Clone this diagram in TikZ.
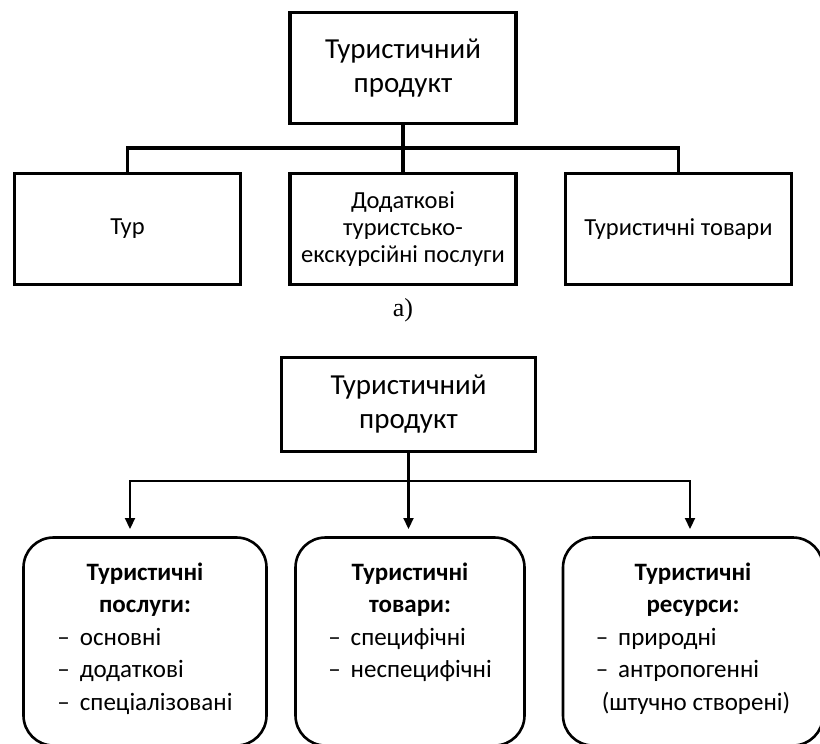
\documentclass[tikz,border=0pt]{standalone}
\usepackage{fontspec}
\setmainfont{Carlito}
\newfontfamily\capfont{Liberation Serif}
\usetikzlibrary{arrows.meta,positioning}

\begin{document}
\begin{tikzpicture}[x=1pt, y=1pt, node distance=275.5pt, align=center,
    sqbox/.style={draw=black, line width=3.2pt, minimum width=226pt, minimum height=111pt, inner sep=2pt, font=\fontsize{24.5}{27}\selectfont},
    bigtxt/.style={font=\fontsize{29}{34}\selectfont},
    rndbox/.style={draw=black, line width=2.6pt, rounded corners=30pt, minimum height=208pt, inner sep=2pt, font=\fontsize{25}{32.5}\selectfont},
    link/.style={draw=black, line width=3.2pt},
    arr/.style={draw=black, line width=2.2pt, -{Triangle[length=11pt, width=10pt]}}]

    \useasboundingbox (0,0) rectangle (820,-744);

    % scheme a
    \node (tur)   [sqbox] at (127.5,-229)              {Тур};
    \node (dod)   [sqbox, right of=tur]                {Додаткові\\туристсько-\\екскурсійні послуги};
    \node (tov)   [sqbox, right of=dod]                {Туристичні товари};
    \node (prodA) [sqbox, bigtxt, above of=dod, node distance=161pt] {Туристичний\\продукт};
    \node (capA)  [below of=dod, node distance=81pt, font=\capfont\fontsize{26}{30}\selectfont] {a)};

    % scheme b
    \node (prodB) [draw=black, line width=2.6pt, minimum width=254pt, minimum height=93.5pt, bigtxt] at (408.5,-404.5) {Туристичний\\продукт};
    \node (usl)   [rndbox, minimum width=243pt] at (145,-641.5)
        {\textbf{Туристичні}\\\textbf{послуги:}\\
         \begin{tabular}[t]{@{}l@{}}–\hspace{0.4em}основні\\–\hspace{0.4em}додаткові\\–\hspace{0.4em}спеціалізовані\end{tabular}};
    \node (tovB)  [rndbox, minimum width=229pt, right of=usl, node distance=265pt]
        {\textbf{Туристичні}\\\textbf{товари:}\\
         \begin{tabular}[t]{@{}l@{}}–\hspace{0.4em}специфічні\\–\hspace{0.4em}неспецифічні\\~\end{tabular}};
    \node (res)   [rndbox, minimum width=260pt, right of=tovB, node distance=283pt]
        {\textbf{Туристичні}\\\textbf{ресурси:}\\
         \begin{tabular}[t]{@{}l@{}}–\hspace{0.4em}природні\\–\hspace{0.4em}антропогенні\\\hspace{6pt}(штучно створені)\end{tabular}};

    \coordinate (busA) at (403,-148);
    \coordinate (busB) at (408.5,-481);
    \coordinate (inL)  at (130,-529);
    \coordinate (inM)  at (408.5,-529);
    \coordinate (inR)  at (690,-529);

    % scheme a
    \draw [link] (prodA) -- (dod);
    \draw [link] (tur.north) |- (busA) -| (tov.north);

    % scheme b
    \draw [arr] (prodB) -- (inM);
    \draw [arr] (busB) -| (inL);
    \draw [arr] (busB) -| (inR);

\end{tikzpicture}
\end{document}
